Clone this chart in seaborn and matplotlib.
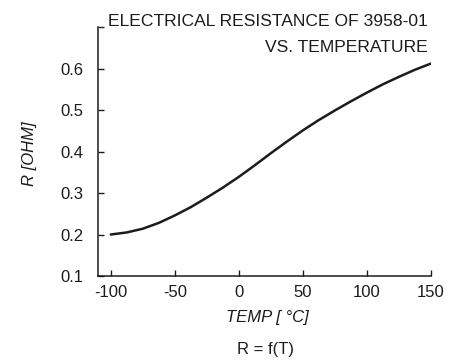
import matplotlib
matplotlib.use("Agg")
import matplotlib.pyplot as plt
import seaborn as sns
import pandas as pd

# values
temp_c = [-100, -87.5, -75, -62.5, -50, -37.5, -25, -12.5, 0, 12.5, 25,
          37.5, 50, 62.5, 75, 87.5, 100, 112.5, 125, 137.5, 150]
r_ohm = [0.200, 0.205, 0.214, 0.228, 0.246, 0.266, 0.289, 0.313, 0.339, 0.367, 0.396,
         0.424, 0.451, 0.476, 0.499, 0.521, 0.542, 0.562, 0.580, 0.597, 0.612]

x_ticks = [-100, -50, 0, 50, 100, 150]
y_ticks = [0.1, 0.2, 0.3, 0.4, 0.5, 0.6, 0.7]
y_tick_labels = ["0.1", "0.2", "0.3", "0.4", "0.5", "0.6", ""]

sns.set_style("white")
plt.rcParams["font.family"] = ["Liberation Sans", "DejaVu Sans"]
plt.rcParams["axes.unicode_minus"] = False

ink = "#1c1c1c"
df = pd.DataFrame({"T": temp_c, "R": r_ohm})

fig = plt.figure(figsize=(4.59, 3.60), dpi=100)
ax = fig.add_axes([0.2135, 0.2333, 0.7255, 0.6917])

sns.lineplot(data=df, x="T", y="R", ax=ax, color=ink, linewidth=1.8)

ax.set_xlim(-110, 150)
ax.set_ylim(0.1, 0.7)
ax.set_xticks(x_ticks)
ax.set_xticklabels([str(v) for v in x_ticks])
ax.set_yticks(y_ticks)
ax.set_yticklabels(y_tick_labels)

for s in ["top", "right"]:
    ax.spines[s].set_visible(False)
for s in ["left", "bottom"]:
    ax.spines[s].set_color(ink)
    ax.spines[s].set_linewidth(1.1)

ax.tick_params(axis="both", direction="in", length=4.5, width=1, colors=ink,
               labelsize=12, bottom=True, left=True)
ax.tick_params(axis="y", pad=10.5)
ax.tick_params(axis="x", pad=6.5)

ax.set_xlabel("TEMP [ °C]", fontsize=12, style="italic", color=ink)
ax.xaxis.set_label_coords(0.51, -0.135)
ax.set_ylabel("R [OHM]", fontsize=12, style="italic", color=ink)
ax.yaxis.set_label_coords(-0.183, 0.49)

fig.text(0.932, 0.940, "ELECTRICAL RESISTANCE OF 3958-01", ha="right", va="center",
         fontsize=12.6, color=ink)
fig.text(0.932, 0.868, "VS. TEMPERATURE", ha="right", va="center", fontsize=12.6, color=ink)
fig.text(0.579, 0.028, "R = f(T)", ha="center", va="center", fontsize=12, color=ink)

fig.savefig("out.png", dpi=100)
